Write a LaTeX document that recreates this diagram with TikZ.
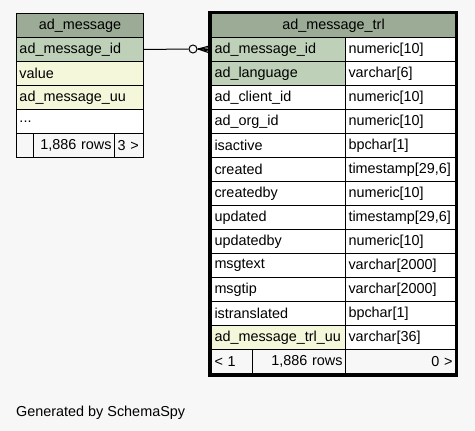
\documentclass[tikz,border=0pt]{standalone}
\usepackage{fontspec}
\setmainfont{Liberation Sans}
\definecolor{bgc}{HTML}{F7F7F7}
\definecolor{titlec}{HTML}{9BAB96}
\definecolor{pkc}{HTML}{BED1B8}
\definecolor{uuc}{HTML}{F4F7DA}
\tikzset{
  cell/.style={draw=black, line width=1pt, minimum height=24pt, inner xsep=3pt, inner ysep=0pt,
    anchor=north west, font=\fontsize{14.4pt}{16pt}\selectfont},
  frame/.style={draw=black, line width=3pt},
  conn/.style={draw=black, line width=1pt}
}
% name, x, y, text width, fill, align, text
\newcommand\erCell[7]{\node[cell, fill=#5, text width=#4pt, align=#6] (#1) at (#2pt,-#3pt) {#7};}
\begin{document}
\begin{tikzpicture}[x=1pt,y=1pt]
\fill[bgc] (0,0) rectangle (475,-431);
\useasboundingbox (0,0) rectangle (475,-431);
% left table ad_message
\erCell{lt}{16}{13}{121}{titlec}{center}{ad\_message}
\erCell{lpk}{16}{37}{121}{pkc}{left}{ad\_message\_id}
\erCell{lval}{16}{61}{121}{uuc}{left}{value}
\erCell{luu}{16}{85}{121}{uuc}{left}{ad\_message\_uu}
\erCell{ldots}{16}{109}{121}{white}{left}{...}
\erCell{lf1}{16}{133}{11}{bgc}{left}{}
\erCell{lf2}{33}{133}{75}{bgc}{right}{1,886 rows}
\erCell{lf3}{114}{133}{23}{bgc}{left}{3 >}
% right table ad_message_trl
\erCell{rt}{211}{13}{238}{titlec}{center}{ad\_message\_trl}
\erCell{rpk}{211}{37}{128}{pkc}{left}{ad\_message\_id}
\erCell{rpkt}{345}{37}{104}{white}{left}{numeric[10]}
\erCell{rlang}{211}{61}{128}{pkc}{left}{ad\_language}
\erCell{rlangt}{345}{61}{104}{white}{left}{varchar[6]}
\erCell{rc}{211}{85}{128}{white}{left}{ad\_client\_id}
\erCell{rct}{345}{85}{104}{white}{left}{numeric[10]}
\erCell{ro}{211}{109}{128}{white}{left}{ad\_org\_id}
\erCell{rot}{345}{109}{104}{white}{left}{numeric[10]}
\erCell{ra}{211}{133}{128}{white}{left}{isactive}
\erCell{rat}{345}{133}{104}{white}{left}{bpchar[1]}
\erCell{rcr}{211}{157}{128}{white}{left}{created}
\erCell{rcrt}{345}{157}{104}{white}{left}{timestamp[29,6]}
\erCell{rcb}{211}{181}{128}{white}{left}{createdby}
\erCell{rcbt}{345}{181}{104}{white}{left}{numeric[10]}
\erCell{ru}{211}{205}{128}{white}{left}{updated}
\erCell{rut}{345}{205}{104}{white}{left}{timestamp[29,6]}
\erCell{rub}{211}{229}{128}{white}{left}{updatedby}
\erCell{rubt}{345}{229}{104}{white}{left}{numeric[10]}
\erCell{rmt}{211}{253}{128}{white}{left}{msgtext}
\erCell{rmtt}{345}{253}{104}{white}{left}{varchar[2000]}
\erCell{rmp}{211}{277}{128}{white}{left}{msgtip}
\erCell{rmpt}{345}{277}{104}{white}{left}{varchar[2000]}
\erCell{rtr}{211}{301}{128}{white}{left}{istranslated}
\erCell{rtrt}{345}{301}{104}{white}{left}{bpchar[1]}
\erCell{ruu}{211}{325}{128}{uuc}{left}{ad\_message\_trl\_uu}
\erCell{ruut}{345}{325}{104}{white}{left}{varchar[36]}
\erCell{rf1}{211}{349}{35}{bgc}{left}{< 1}
\erCell{rf2}{252}{349}{87}{bgc}{right}{1,886 rows}
\erCell{rf3}{345}{349}{104}{bgc}{right}{0 >}
\draw[frame] (209.5,-12) rectangle (456.5,-375.5);
% connector
\coordinate (crowtip) at (198,-49);
\node[circle, draw=black, line width=1pt, fill=bgc, minimum size=8pt, inner sep=0pt] (circ) at (193,-49) {};
\draw[conn] (lpk.east) -- (circ.west);
\draw[conn] (circ.east) -- (rpk.west);
\draw[conn] (crowtip) -- ([yshift=4pt]rpk.west);
\draw[conn] (crowtip) -- ([yshift=-4pt]rpk.west);
\draw[conn] (crowtip) -- ([yshift=2pt]rpk.west);
\draw[conn] (crowtip) -- ([yshift=-2pt]rpk.west);
% footer text
\node[anchor=base west, inner sep=0pt, font=\fontsize{14.4pt}{16pt}\selectfont] (gen) at (16,-416) {Generated by SchemaSpy};
\end{tikzpicture}
\end{document}
